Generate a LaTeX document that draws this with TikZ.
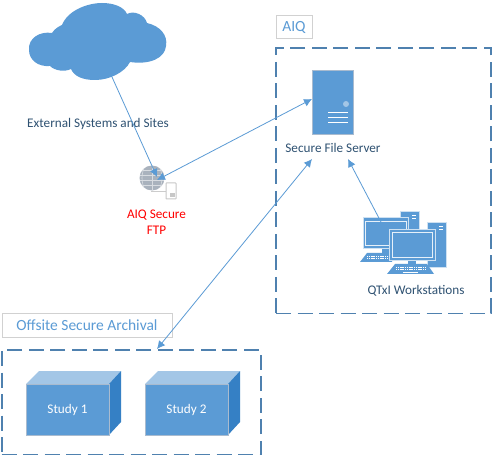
\documentclass[tikz,border=0pt]{standalone}
\usepackage{fontspec}
\setmainfont{Carlito}
\usetikzlibrary{arrows.meta}
\definecolor{bl}{HTML}{5B9BD5}
\definecolor{dbl}{HTML}{3580C5}
\definecolor{lbl}{HTML}{A3C6E6}
\definecolor{dashc}{HTML}{4F81AF}
\definecolor{edgeg}{HTML}{A9BBCF}
\definecolor{txt}{HTML}{2F5272}
\definecolor{globec}{HTML}{A9B2BD}
\tikzset{
  x=1pt,y=-1pt,
  every node/.style={outer sep=0pt},
  lab/.style={font=\fontsize{13.2}{16}\selectfont,text=txt,inner sep=0pt,align=center},
  titlebox/.style={draw=black!18,line width=1pt,font=\fontsize{15.5}{16}\selectfont,text=bl,inner sep=0pt,anchor=north west},
  region/.style={draw=dashc,line width=1.6pt,dash pattern=on 15pt off 6.5pt,inner sep=0pt,anchor=north west},
  flow/.style={draw=bl,line width=0.8pt,-{Latex[length=8pt,width=8pt]}},
  flowboth/.style={draw=bl,line width=0.8pt,{Latex[length=8pt,width=8pt]}-{Latex[length=8pt,width=8pt]}},
  pcpart/.style={fill=bl,draw=edgeg,line width=0.8pt},
  screen/.style={draw=white!85!bl,line width=0.8pt,fill=bl},
  cubefront/.style={fill=bl,draw=edgeg,line width=0.8pt,text=white,font=\fontsize{13.2}{14}\selectfont,minimum width=83pt,minimum height=51pt,inner sep=0pt},
}
\begin{document}
\begin{tikzpicture}
\useasboundingbox[fill=white] (0,0) rectangle (493,457);

% regions
\node[region,minimum width=215pt,minimum height=265.5pt] (aiq) at (276,48) {};
\node[titlebox,minimum width=36pt,minimum height=23pt] (aiqlabel) at (276,16) {AIQ};
\node[region,minimum width=259pt,minimum height=104.5pt] (offsite) at (1.7,350) {};
\node[titlebox,minimum width=170pt,minimum height=23pt] (offlabel) at (2,314) {Offsite Secure Archival};

% cloud
\fill[bl] (29,50) .. controls (28,38) and (40,31) .. (52,33)
  .. controls (55,28) and (60,26) .. (62,25)
  .. controls (68,10) and (88,3) .. (102,3)
  .. controls (114,3) and (124,7) .. (127,14)
  .. controls (134,10) and (145,15) .. (147,23)
  .. controls (160,26) and (168,35) .. (166,46)
  .. controls (165,58) and (150,65) .. (130,62)
  .. controls (125,72) and (110,80) .. (95,80)
  .. controls (82,80) and (74,76) .. (71,69)
  .. controls (65,72) and (55,71) .. (50,66)
  .. controls (38,67) and (29,60) .. (29,50) -- cycle;
\coordinate (cloudout) at (112,77);
\node[lab,anchor=center] (extlabel) at (98,124) {External Systems and Sites};

% FTP globe
\node[circle,fill=globec,minimum size=25pt,inner sep=0pt] (globe) at (152,178) {};
\begin{scope}
\clip (152,178) circle (12.5);
\foreach \yy in {170,175,180,185} \draw[white!55!globec,line width=0.6pt] (139,\yy) -- (165,\yy);
\draw[white!55!globec,line width=0.6pt] (152,165) -- (152,191);
\draw[white!55!globec,line width=0.6pt] (145,166) .. controls (141,174) and (141,182) .. (145,190);
\draw[white!55!globec,line width=0.6pt] (159,166) .. controls (163,174) and (163,182) .. (159,190);
\end{scope}
\draw[black!20,line width=1pt] (151,192) -- (166,192);
\node[draw=black!22,fill=white,line width=1pt,minimum width=10pt,minimum height=16pt,inner sep=0pt,anchor=north west,rounded corners=0.5pt] (minisrv) at (166,183) {};
\fill[black!22] (170,193) rectangle (175,197);
\node[lab,text=red] (ftplabel) at (156.5,222) {AIQ Secure\\FTP};
\coordinate (ftpin) at (157,177);
\coordinate (ftpend) at (157,180);

% server
\node[pcpart,minimum width=41pt,minimum height=64pt,inner sep=0pt,anchor=north west] (server) at (312,70) {};
\fill[lbl] (346,104) circle (3);
\foreach \yy in {113,118,123} \draw[white,line width=1pt] (328,\yy) -- (348,\yy);
\node[lab] (srvlabel) at (333,148) {Secure File Server};
\coordinate (srvtip) at (312,99);
\coordinate (srvb) at (312,159);
\coordinate (srvc) at (348,159);

% workstations
\node[pcpart,draw=white!70!bl,minimum width=19pt,minimum height=30pt,inner sep=0pt,anchor=north west] (tower1) at (400,211) {};
\foreach \yy in {215,218} \draw[white,line width=0.8pt] (412,\yy) -- (416,\yy);
\node[pcpart,draw=white!70!bl,minimum width=19pt,minimum height=45pt,inner sep=0pt,anchor=north west] (tower2) at (427,222) {};
\foreach \yy in {226,229} \draw[white,line width=0.8pt] (439,\yy) -- (443,\yy);
\fill[bl] (382,248) rectangle (390,254);
\node[pcpart,draw=white!70!bl,minimum width=45pt,minimum height=31pt,inner sep=0pt,anchor=north west] (mon1) at (363,217) {};
\node[screen,minimum width=41pt,minimum height=24pt,inner sep=0pt,anchor=north west] at (365,221) {};
\fill[bl] (360,262) -- (367,253) -- (392,253) -- (392,262) -- cycle;
\foreach \yy in {256,258.5} \draw[white,line width=0.9pt,dash pattern=on 1.2pt off 0.6pt] (367,\yy) -- (389,\yy);
\fill[bl] (408,260) rectangle (416,264);
\node[pcpart,draw=white!70!bl,minimum width=46pt,minimum height=31pt,inner sep=0pt,anchor=north west] (mon2) at (389,229) {};
\node[screen,minimum width=40pt,minimum height=25pt,inner sep=0pt,anchor=north west] at (392,232) {};
\fill[bl] (387,274) -- (395,264) -- (427,264) -- (434,274) -- cycle;
\foreach \yy in {267,269.5} \draw[white,line width=0.9pt,dash pattern=on 1.2pt off 0.6pt] (396,\yy) -- (426,\yy);
\draw[white,line width=0.8pt] (403,272) -- (418,272);
\node[lab] (wslabel) at (416,291) {QTxI Workstations};
\coordinate (wsout) at (381,222);

% cubes
\foreach \nm/\xx/\tx in {one/26/Study 1,two/145/Study 2}{
  \fill[lbl] (\xx,384) -- (\xx+13,371) -- (\xx+95,371) -- (\xx+83,384) -- cycle;
  \fill[dbl] (\xx+83,384) -- (\xx+95,371) -- (\xx+95,422) -- (\xx+83,435) -- cycle;
  \node[cubefront,anchor=north west] (study\nm) at (\xx,384) {\tx};
}
\coordinate (offtip) at (157,349);

% connectors
\draw[flow] (cloudout) -- (ftpin);
\draw[flowboth] (ftpend) -- (srvtip);
\draw[flowboth] (offtip) -- (srvb);
\draw[flow] (wsout) -- (srvc);
\end{tikzpicture}
\end{document}
